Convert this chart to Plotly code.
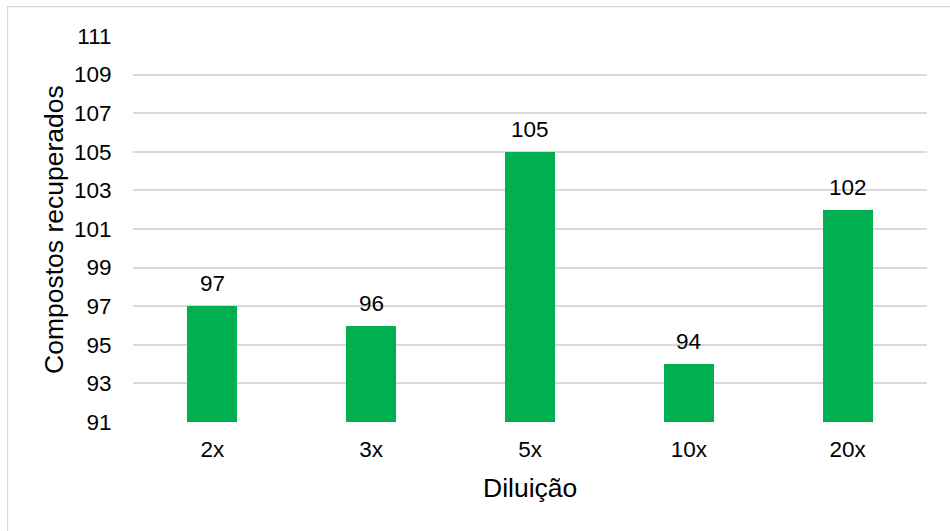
import plotly.graph_objects as go

# Diluições testadas e número de compostos recuperados
diluicoes = ["2x", "3x", "5x", "10x", "20x"]
compostos = [97, 96, 105, 94, 102]

y_ticks = [91, 93, 95, 97, 99, 101, 103, 105, 107, 109, 111]

VERDE = "#00B050"
GRADE = "#D9D9D9"
FONTE = "Liberation Sans, Arial, sans-serif"
TAM_TICK = 22.5
TAM_TITULO = 26.5

fig = go.Figure(
    go.Bar(
        x=diluicoes,
        y=compostos,
        base=0,
        width=0.315,
        marker=dict(color=VERDE, line=dict(width=0)),
        hoverinfo="x+y",
    )
)

# Rótulos de valor sobre cada barra
for d, v in zip(diluicoes, compostos):
    fig.add_annotation(
        x=d, y=v, text=str(v), showarrow=False,
        yanchor="bottom", yshift=8,
        font=dict(family=FONTE, size=TAM_TICK, color="#000000"),
    )

# Títulos dos eixos
fig.add_annotation(
    x=-0.0995, y=0.5, xref="paper", yref="paper",
    text="Compostos recuperados", textangle=-90, showarrow=False,
    xanchor="center", yanchor="middle",
    font=dict(family=FONTE, size=TAM_TITULO, color="#000000"),
)
fig.add_annotation(
    x=0.5, y=-0.17, xref="paper", yref="paper",
    text="Diluição", showarrow=False,
    xanchor="center", yanchor="middle",
    font=dict(family=FONTE, size=TAM_TITULO, color="#000000"),
)

# Moldura da área do gráfico
fig.add_shape(
    type="rect", xref="paper", yref="paper",
    x0=-0.158, x1=1.2, y0=-0.5, y1=1.0763,
    line=dict(color=GRADE, width=1.25), fillcolor="rgba(0,0,0,0)",
    layer="below",
)

fig.update_layout(
    width=950, height=531,
    margin=dict(l=133, r=23, t=36, b=108.5),
    paper_bgcolor="white", plot_bgcolor="white",
    showlegend=False,
    font=dict(family=FONTE, size=TAM_TICK, color="#000000"),
    bargap=0,
)
fig.update_xaxes(
    type="category",
    showgrid=False, showline=False, zeroline=False,
    ticks="outside", ticklen=7, tickcolor="rgba(0,0,0,0)",
    tickfont=dict(family=FONTE, size=TAM_TICK, color="#000000"),
)
fig.update_yaxes(
    range=[91, 111], tickvals=y_ticks,
    showgrid=True, gridcolor=GRADE, gridwidth=1.5,
    zeroline=False, showline=False,
    ticks="outside", ticklen=16, tickcolor="rgba(0,0,0,0)",
    tickfont=dict(family=FONTE, size=TAM_TICK, color="#000000"),
)

fig.write_html("out.html")
